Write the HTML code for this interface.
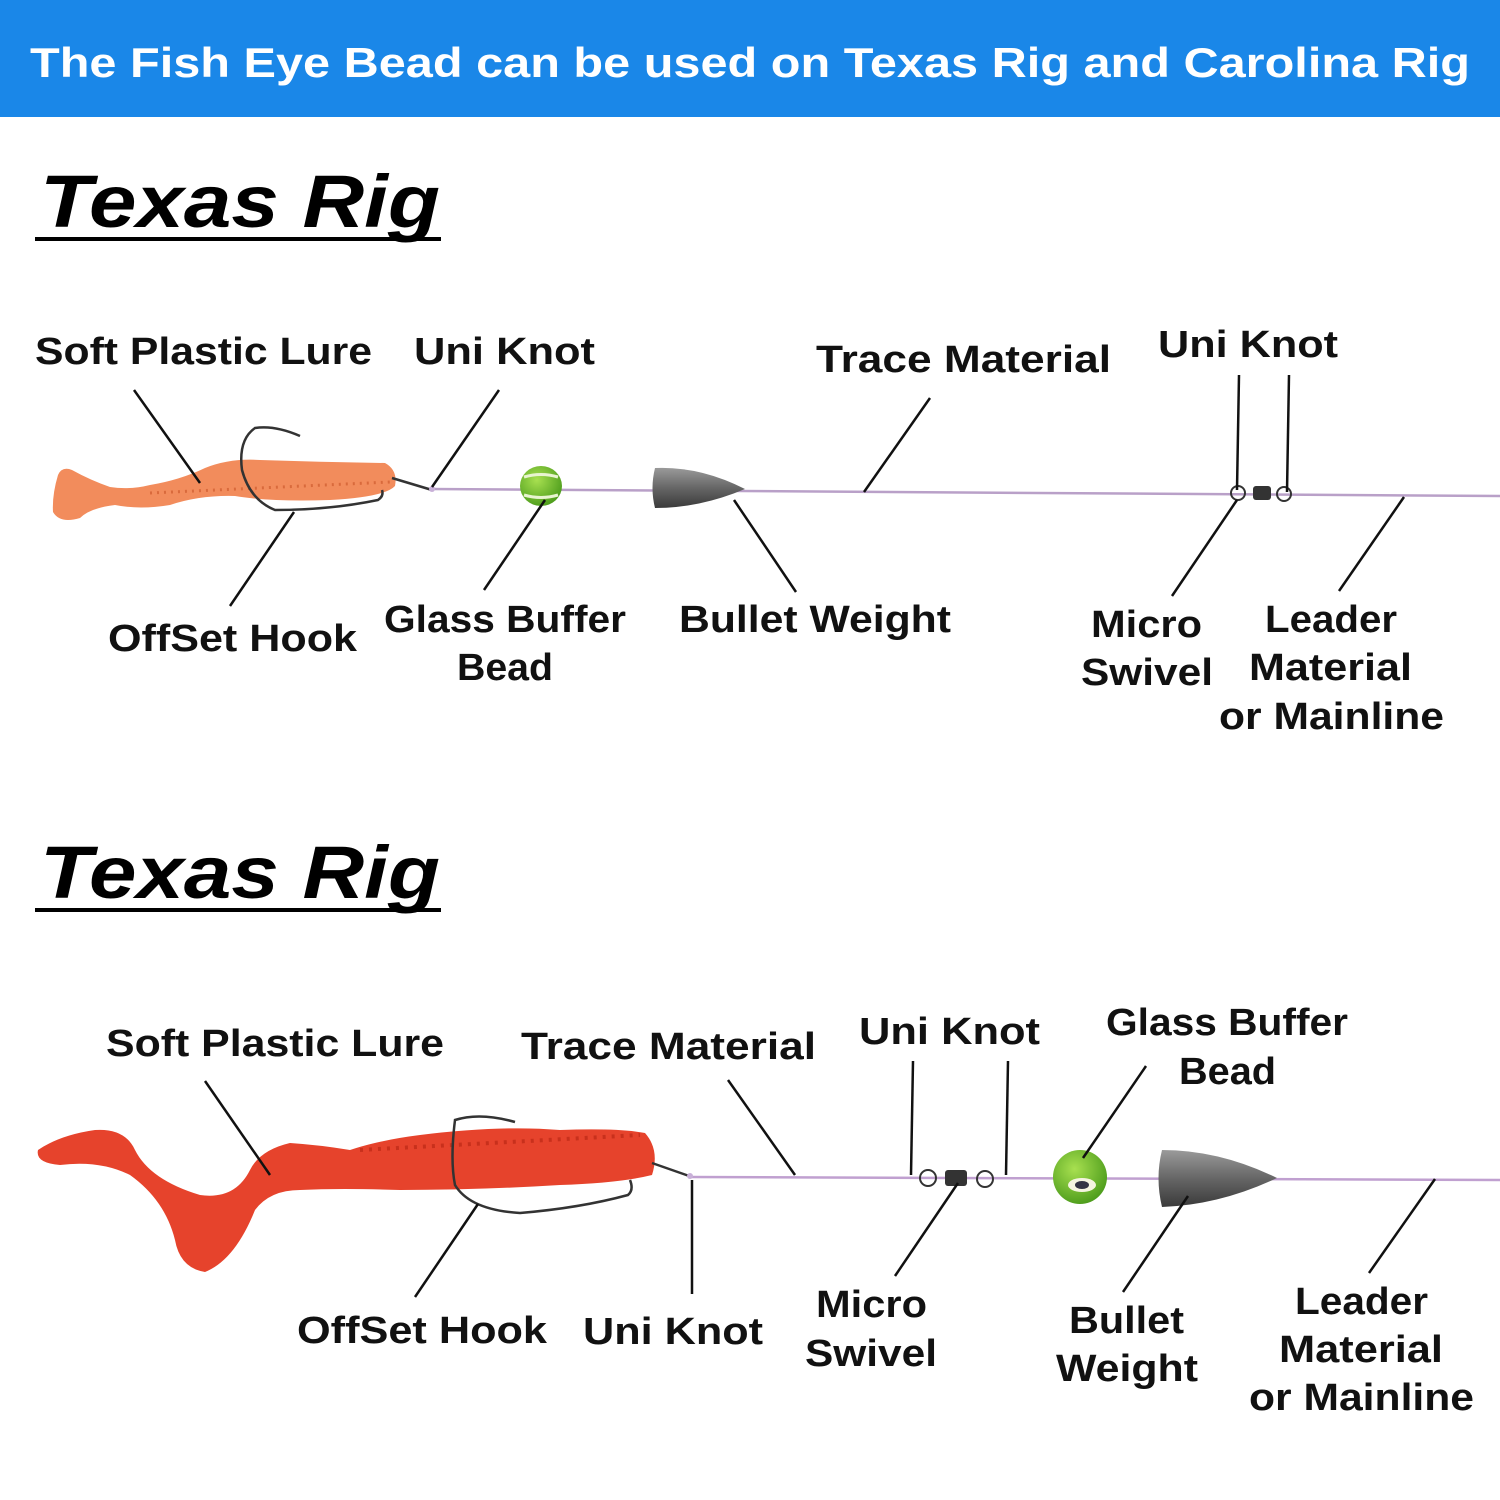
<!DOCTYPE html>
<html><head><meta charset="utf-8"><style>
html,body{margin:0;padding:0;background:#fff;}
svg{display:block;}
.t{font-family:"Liberation Sans",sans-serif;font-weight:bold;font-size:38px;fill:#111;}
.h{font-family:"Liberation Sans",sans-serif;font-weight:bold;font-style:italic;font-size:74px;fill:#000;}
.l{stroke:#111;stroke-width:2.5;fill:none;}
</style></head><body>
<svg width="1500" height="1500" viewBox="0 0 1500 1500" xmlns="http://www.w3.org/2000/svg">
<defs>
<linearGradient id="lead" x1="0" y1="0" x2="0" y2="1"><stop offset="0" stop-color="#9a9a9a"/><stop offset="0.5" stop-color="#666"/><stop offset="1" stop-color="#3a3a3a"/></linearGradient>
<radialGradient id="grn" cx="0.4" cy="0.35" r="0.7"><stop offset="0" stop-color="#a8e050"/><stop offset="1" stop-color="#4a9a1a"/></radialGradient>
</defs>
<rect x="0" y="0" width="1500" height="117" fill="#1a87e8"/>
<text x="750" y="77" text-anchor="middle" font-family="Liberation Sans,sans-serif" font-weight="bold" font-size="42" fill="#fff" textLength="1440" lengthAdjust="spacingAndGlyphs">The Fish Eye Bead can be used on Texas Rig and Carolina Rig</text>

<text class="h" x="40" y="227" textLength="400" lengthAdjust="spacingAndGlyphs">Texas Rig</text>
<rect x="35" y="237" width="406" height="4" fill="#000"/>
<text class="h" x="40" y="898" textLength="400" lengthAdjust="spacingAndGlyphs">Texas Rig</text>
<rect x="35" y="908" width="406" height="4" fill="#000"/>

<!-- TOP RIG -->
<line x1="430" y1="489" x2="1500" y2="496" stroke="#b9a0c8" stroke-width="2.5"/>
<path d="M58,475 Q62,466 72,470 Q90,480 110,487 Q130,490 150,485 Q180,480 205,468 Q230,458 260,460 Q320,462 385,463 Q398,470 395,486 Q385,497 330,500 Q270,502 235,496 Q200,495 170,505 Q140,510 115,505 Q90,508 80,518 Q60,524 53,512 Q52,495 58,475 Z" fill="#f28c5c"/>
<path d="M150,493 L390,482" stroke="#d96a3c" stroke-width="3" stroke-dasharray="2 5" fill="none"/>
<path d="M300,436 Q275,425 255,428 Q238,440 242,470 Q250,500 275,510 Q330,510 378,500 Q384,496 382,490" stroke="#333" stroke-width="2.5" fill="none"/>
<path d="M392,478 L432,490" stroke="#333" stroke-width="2.5"/>
<circle cx="432" cy="489" r="3" fill="#c8b0d8"/>
<ellipse cx="541" cy="486" rx="21" ry="20" fill="url(#grn)"/>
<path d="M524,477 Q541,472 558,477" stroke="#e8f4d0" stroke-width="3" fill="none"/>
<path d="M524,495 Q541,500 558,495" stroke="#e8f4d0" stroke-width="3" fill="none"/>
<path d="M655,468 Q700,466 745,489 Q700,508 655,508 Q650,488 655,468 Z" fill="url(#lead)"/>
<circle cx="1238" cy="493" r="7" stroke="#333" stroke-width="2" fill="none"/>
<rect x="1253" y="486" width="18" height="14" rx="3" fill="#333"/>
<circle cx="1284" cy="494" r="7" stroke="#333" stroke-width="2" fill="none"/>

<line class="l" x1="134" y1="390" x2="200" y2="483"/>
<line class="l" x1="499" y1="390" x2="432" y2="487"/>
<line class="l" x1="930" y1="398" x2="864" y2="492"/>
<line class="l" x1="1239" y1="375" x2="1237" y2="490"/>
<line class="l" x1="1289" y1="375" x2="1287" y2="492"/>
<line class="l" x1="294" y1="512" x2="230" y2="606"/>
<line class="l" x1="545" y1="500" x2="484" y2="590"/>
<line class="l" x1="734" y1="500" x2="796" y2="592"/>
<line class="l" x1="1237" y1="500" x2="1172" y2="596"/>
<line class="l" x1="1404" y1="497" x2="1339" y2="591"/>

<text class="t" x="35" y="364" textLength="337" lengthAdjust="spacingAndGlyphs">Soft Plastic Lure</text>
<text class="t" x="414" y="364" textLength="181" lengthAdjust="spacingAndGlyphs">Uni Knot</text>
<text class="t" x="816" y="372" textLength="295" lengthAdjust="spacingAndGlyphs">Trace Material</text>
<text class="t" x="1158" y="357" textLength="180" lengthAdjust="spacingAndGlyphs">Uni Knot</text>
<text class="t" x="108" y="651" textLength="249" lengthAdjust="spacingAndGlyphs">OffSet Hook</text>
<text class="t" x="384" y="632" textLength="242" lengthAdjust="spacingAndGlyphs">Glass Buffer</text>
<text class="t" x="457" y="680" textLength="96" lengthAdjust="spacingAndGlyphs">Bead</text>
<text class="t" x="679" y="632" textLength="272" lengthAdjust="spacingAndGlyphs">Bullet Weight</text>
<text class="t" x="1091" y="637" textLength="111" lengthAdjust="spacingAndGlyphs">Micro</text>
<text class="t" x="1081" y="685" textLength="132" lengthAdjust="spacingAndGlyphs">Swivel</text>
<text class="t" x="1265" y="632" textLength="132" lengthAdjust="spacingAndGlyphs">Leader</text>
<text class="t" x="1249" y="680" textLength="163" lengthAdjust="spacingAndGlyphs">Material</text>
<text class="t" x="1219" y="729" textLength="225" lengthAdjust="spacingAndGlyphs">or Mainline</text>

<!-- BOTTOM RIG -->
<line x1="690" y1="1177" x2="1500" y2="1180" stroke="#c0a0d0" stroke-width="2.5"/>
<path d="M38,1150 Q60,1135 95,1130 Q125,1128 135,1150 Q150,1180 200,1195 Q235,1200 250,1170 Q260,1150 290,1143 Q320,1145 350,1150 Q380,1140 420,1135 Q500,1125 560,1130 Q620,1128 645,1133 Q660,1150 652,1175 Q620,1183 560,1185 Q480,1190 400,1190 Q340,1188 300,1190 Q270,1190 255,1210 Q235,1260 205,1272 Q180,1268 175,1240 Q165,1200 130,1175 Q100,1160 60,1165 Q35,1163 38,1150 Z" fill="#e6432c"/>
<path d="M360,1150 L640,1135" stroke="#c8301c" stroke-width="4" stroke-dasharray="3 6" fill="none"/>
<path d="M515,1122 Q480,1112 455,1120 Q450,1160 455,1185 Q470,1210 520,1213 Q580,1208 628,1195 Q634,1190 630,1180" stroke="#333" stroke-width="2.5" fill="none"/>
<path d="M652,1163 L692,1177" stroke="#333" stroke-width="2.5"/>
<circle cx="690" cy="1176" r="3" fill="#c8b0d8"/>
<circle cx="928" cy="1178" r="8" stroke="#333" stroke-width="2" fill="none"/>
<rect x="945" y="1170" width="22" height="16" rx="3" fill="#333"/>
<circle cx="985" cy="1179" r="8" stroke="#333" stroke-width="2" fill="none"/>
<ellipse cx="1080" cy="1177" rx="27" ry="27" fill="url(#grn)"/>
<ellipse cx="1082" cy="1185" rx="14" ry="7" fill="#f4f4e0"/>
<ellipse cx="1082" cy="1185" rx="7" ry="4" fill="#334"/>
<path d="M1162,1150 Q1220,1150 1277,1178 Q1220,1205 1162,1207 Q1155,1178 1162,1150 Z" fill="url(#lead)"/>

<line class="l" x1="205" y1="1081" x2="270" y2="1175"/>
<line class="l" x1="728" y1="1080" x2="795" y2="1175"/>
<line class="l" x1="913" y1="1061" x2="911" y2="1175"/>
<line class="l" x1="1008" y1="1061" x2="1006" y2="1175"/>
<line class="l" x1="1146" y1="1066" x2="1083" y2="1158"/>
<line class="l" x1="478" y1="1204" x2="415" y2="1297"/>
<line class="l" x1="692" y1="1180" x2="692" y2="1294"/>
<line class="l" x1="958" y1="1183" x2="895" y2="1276"/>
<line class="l" x1="1188" y1="1196" x2="1123" y2="1292"/>
<line class="l" x1="1435" y1="1179" x2="1369" y2="1273"/>

<text class="t" x="106" y="1056" textLength="338" lengthAdjust="spacingAndGlyphs">Soft Plastic Lure</text>
<text class="t" x="521" y="1059" textLength="295" lengthAdjust="spacingAndGlyphs">Trace Material</text>
<text class="t" x="859" y="1044" textLength="181" lengthAdjust="spacingAndGlyphs">Uni Knot</text>
<text class="t" x="1106" y="1035" textLength="242" lengthAdjust="spacingAndGlyphs">Glass Buffer</text>
<text class="t" x="1179" y="1084" textLength="97" lengthAdjust="spacingAndGlyphs">Bead</text>
<text class="t" x="297" y="1343" textLength="250" lengthAdjust="spacingAndGlyphs">OffSet Hook</text>
<text class="t" x="583" y="1344" textLength="180" lengthAdjust="spacingAndGlyphs">Uni Knot</text>
<text class="t" x="816" y="1317" textLength="111" lengthAdjust="spacingAndGlyphs">Micro</text>
<text class="t" x="805" y="1366" textLength="132" lengthAdjust="spacingAndGlyphs">Swivel</text>
<text class="t" x="1069" y="1333" textLength="115" lengthAdjust="spacingAndGlyphs">Bullet</text>
<text class="t" x="1056" y="1381" textLength="142" lengthAdjust="spacingAndGlyphs">Weight</text>
<text class="t" x="1295" y="1314" textLength="133" lengthAdjust="spacingAndGlyphs">Leader</text>
<text class="t" x="1279" y="1362" textLength="164" lengthAdjust="spacingAndGlyphs">Material</text>
<text class="t" x="1249" y="1410" textLength="225" lengthAdjust="spacingAndGlyphs">or Mainline</text>
</svg>
</body></html>
